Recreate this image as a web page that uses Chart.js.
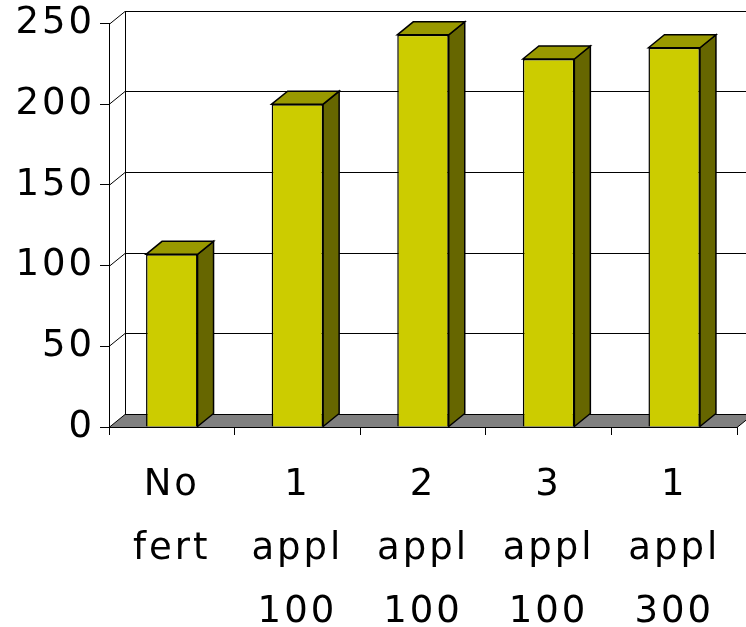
<!DOCTYPE html>
<html>
<head>
<meta charset="utf-8">
<script src="https://cdn.jsdelivr.net/npm/chart.js@4/dist/chart.umd.min.js"></script>
<style>
  html, body { margin: 0; padding: 0; background: #fff; }
  #graphique { width: 746px; height: 627px; }
</style>
</head>
<body>
<div id="graphique"><canvas id="graphique-barres"></canvas></div>
<script>
// Catégories (une ligne par élément du tableau)
const categories = [
  ["No", "fert"],
  ["1", "appl", "100"],
  ["2", "appl", "100"],
  ["3", "appl", "100"],
  ["1", "appl", "300"]
];
// Valeurs
const valeurs = [107, 200, 243, 228, 235];
// Graduations de l'axe vertical
const graduations = [0, 50, 100, 150, 200, 250];

// Profondeur de l'effet 3D
const profX = 16;
const profY = 13;

// Plugin qui dessine les murs, le sol et les faces 3D des barres
const effet3D = {
  id: "effet3D",
  beforeDraw(chart) {
    // texte un peu plus large, comme sur l'original
    chart.ctx.letterSpacing = "3px";
  },
  beforeDatasetsDraw(chart) {
    const ctx = chart.ctx;
    const zone = chart.chartArea;
    const y = chart.scales.y;
    ctx.save();
    ctx.lineWidth = 1;
    ctx.strokeStyle = "#000";
    // Lignes du mur du fond et du mur gauche
    for (let i = 1; i < graduations.length; i++) {
      const py = Math.round(y.getPixelForValue(graduations[i])) + 0.5;
      ctx.beginPath();
      ctx.moveTo(zone.left, py);
      ctx.lineTo(zone.left + profX, py - profY);
      ctx.lineTo(chart.width + 20, py - profY);
      ctx.stroke();
    }
    // Arête verticale du fond
    const haut = Math.round(y.getPixelForValue(graduations[graduations.length - 1])) + 0.5;
    const bas = Math.round(y.getPixelForValue(0)) + 0.5;
    ctx.beginPath();
    ctx.moveTo(zone.left + profX + 0.5, haut - profY);
    ctx.lineTo(zone.left + profX + 0.5, bas - profY);
    ctx.stroke();
    // Sol gris
    ctx.beginPath();
    ctx.moveTo(zone.left, bas);
    ctx.lineTo(zone.right, bas);
    ctx.lineTo(zone.right + profX, bas - profY);
    ctx.lineTo(zone.left + profX, bas - profY);
    ctx.closePath();
    ctx.fillStyle = "#808080";
    ctx.fill();
    ctx.stroke();
    ctx.restore();
  },
  afterDatasetsDraw(chart) {
    const ctx = chart.ctx;
    const barres = chart.getDatasetMeta(0).data;
    ctx.save();
    ctx.lineWidth = 1.5;
    ctx.strokeStyle = "#000";
    ctx.lineJoin = "miter";
    for (let i = 0; i < barres.length; i++) {
      const b = barres[i];
      const g = b.x - b.width / 2;
      const d = b.x + b.width / 2;
      const h = b.y;
      const base = b.base;
      // Face de côté
      ctx.beginPath();
      ctx.moveTo(d, h);
      ctx.lineTo(d + profX, h - profY);
      ctx.lineTo(d + profX, base - profY);
      ctx.lineTo(d, base);
      ctx.closePath();
      ctx.fillStyle = "#666600";
      ctx.fill();
      ctx.stroke();
      // Face du dessus
      ctx.beginPath();
      ctx.moveTo(g, h);
      ctx.lineTo(g + profX, h - profY);
      ctx.lineTo(d + profX, h - profY);
      ctx.lineTo(d, h);
      ctx.closePath();
      ctx.fillStyle = "#999900";
      ctx.fill();
      ctx.stroke();
    }
    ctx.restore();
  }
};

const police = { family: "'DejaVu Sans', Verdana, sans-serif", size: 37 };

const data = {
  labels: categories,
  datasets: [{
    data: valeurs,
    backgroundColor: "#CCCC00",
    borderColor: "#000",
    borderWidth: 1.5,
    barPercentage: 0.41,
    categoryPercentage: 1
  }]
};

const config = {
  type: "bar",
  data: data,
  options: {
    responsive: true,
    maintainAspectRatio: false,
    animation: false,
    layout: { padding: { top: 23, right: 9, left: 0, bottom: 0 } },
    plugins: {
      legend: { display: false },
      tooltip: { enabled: false }
    },
    scales: {
      x: {
        grid: { drawOnChartArea: false, tickLength: 8, color: "#000", offset: true },
        border: { display: false },
        ticks: {
          color: "#000",
          font: { ...police, lineHeight: 1.71 },
          padding: 19,
          maxRotation: 0,
          autoSkip: false
        },
        afterFit(scale) { scale.height = 200; }
      },
      y: {
        min: 0,
        max: 250,
        grid: { drawOnChartArea: false, tickLength: 9, color: "#000" },
        border: { display: true, color: "#000", width: 1 },
        ticks: {
          stepSize: 50,
          color: "#000",
          font: { ...police, lineHeight: 1 },
          padding: 5
        },
        afterFit(scale) { scale.width = 109; }
      }
    }
  },
  plugins: [effet3D]
};

new Chart(document.querySelector("#graphique-barres"), config);
</script>
</body>
</html>
